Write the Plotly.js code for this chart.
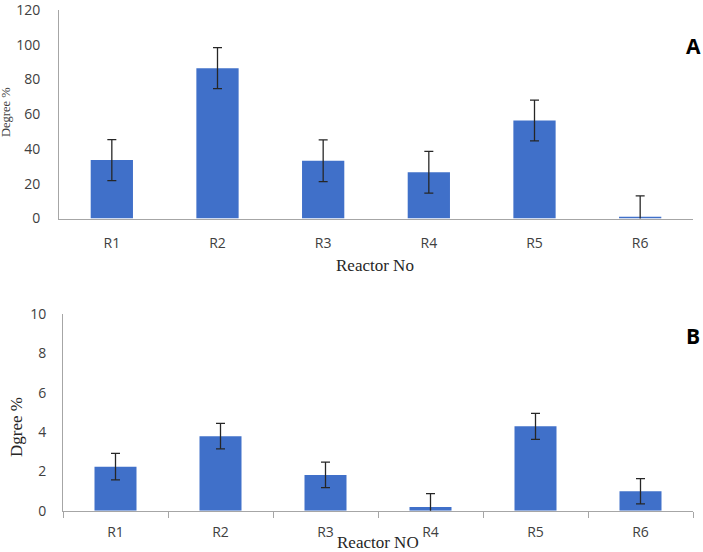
<!DOCTYPE html>
<html>
<head>
<meta charset="utf-8">
<script src="https://cdn.plot.ly/plotly-3.0.1.min.js"></script>
<style>html,body{margin:0;padding:0;background:#fff;}#chart{width:703px;height:552px;}</style>
</head>
<body>
<div id="chart"></div>
<script>
const reactors = ["R1", "R2", "R3", "R4", "R5", "R6"];
const degreeA = [33.6, 86.5, 33.2, 26.6, 56.4, 1.0];
const errorA = [11.8, 11.8, 12.0, 12.0, 11.7, 12.0];
const degreeB = [2.24, 3.79, 1.82, 0.19, 4.29, 0.99];
const errorB = [0.67, 0.65, 0.65, 0.68, 0.66, 0.64];
const yTicksA = [0, 20, 40, 60, 80, 100, 120];
const yTicksB = [0, 2, 4, 6, 8, 10];

const W = 703, H = 552;
const px = x => x / W;
const py = y => 1 - y / H;

const barColor = '#4070c9';
const axisGrey = '#a6a6a6';
const tickFont = {family: 'Open Sans, sans-serif', size: 14, color: '#404040'};
const serif = 'Liberation Serif, Times New Roman, serif';

const traces = [
  {
    type: 'bar', x: reactors, y: degreeA, xaxis: 'x', yaxis: 'y',
    marker: {color: barColor},
    error_y: {type: 'data', array: errorA, visible: true, color: '#262626', thickness: 1.3, width: 4.5},
    hoverinfo: 'x+y'
  },
  {
    type: 'bar', x: reactors, y: degreeB, xaxis: 'x2', yaxis: 'y2',
    marker: {color: barColor},
    error_y: {type: 'data', array: errorB, visible: true, color: '#262626', thickness: 1.3, width: 4.5},
    hoverinfo: 'x+y'
  }
];

const layout = {
  width: W, height: H,
  margin: {l: 0, r: 0, t: 0, b: 0},
  paper_bgcolor: '#ffffff', plot_bgcolor: '#ffffff',
  showlegend: false,
  bargap: 0.6,
  xaxis: {
    domain: [px(59), px(693)], anchor: 'y',
    showline: true, linecolor: axisGrey, linewidth: 1,
    ticks: '', showgrid: false, zeroline: false,
    tickfont: tickFont, ticklabelstandoff: 12
  },
  yaxis: {
    domain: [py(218.5), py(10)], anchor: 'x',
    range: [0, 120], tickvals: yTicksA,
    showline: true, linecolor: axisGrey, linewidth: 1,
    ticks: '', showgrid: false, zeroline: false,
    tickfont: tickFont, ticklabelstandoff: 15, ticklabeloverflow: 'allow'
  },
  xaxis2: {
    domain: [px(63), px(693)], anchor: 'y2',
    showline: true, linecolor: axisGrey, linewidth: 1,
    ticks: 'outside', tickson: 'boundaries', ticklen: 6, tickcolor: axisGrey,
    showgrid: false, zeroline: false,
    tickfont: tickFont, ticklabelstandoff: 8
  },
  yaxis2: {
    domain: [py(510.7), py(314)], anchor: 'x2',
    range: [0, 10], tickvals: yTicksB,
    showline: true, linecolor: axisGrey, linewidth: 1,
    ticks: '', showgrid: false, zeroline: false,
    tickfont: tickFont, ticklabelstandoff: 13, ticklabeloverflow: 'allow'
  },
  annotations: [
    {text: 'Reactor No', xref: 'paper', yref: 'paper', x: px(375), y: py(265), xanchor: 'center', yanchor: 'middle', showarrow: false, font: {family: serif, size: 17, color: '#262626'}},
    {text: 'Degree %', xref: 'paper', yref: 'paper', x: px(6), y: py(112), xanchor: 'center', yanchor: 'middle', textangle: -90, showarrow: false, font: {family: serif, size: 12.5, color: '#404040'}},
    {text: 'Reactor NO', xref: 'paper', yref: 'paper', x: px(378), y: py(542), xanchor: 'center', yanchor: 'middle', showarrow: false, font: {family: serif, size: 17, color: '#262626'}},
    {text: 'Dgree %', xref: 'paper', yref: 'paper', x: px(16), y: py(427), xanchor: 'center', yanchor: 'middle', textangle: -90, showarrow: false, font: {family: serif, size: 17, color: '#262626'}},
    {text: '<b>A</b>', xref: 'paper', yref: 'paper', x: px(693), y: py(46), xanchor: 'center', yanchor: 'middle', showarrow: false, font: {family: 'Open Sans, sans-serif', size: 21, color: '#000000'}},
    {text: '<b>B</b>', xref: 'paper', yref: 'paper', x: px(693), y: py(336), xanchor: 'center', yanchor: 'middle', showarrow: false, font: {family: 'Open Sans, sans-serif', size: 21, color: '#000000'}}
  ]
};

Plotly.newPlot('chart', traces, layout, {displayModeBar: false, staticPlot: true});
</script>
</body>
</html>
